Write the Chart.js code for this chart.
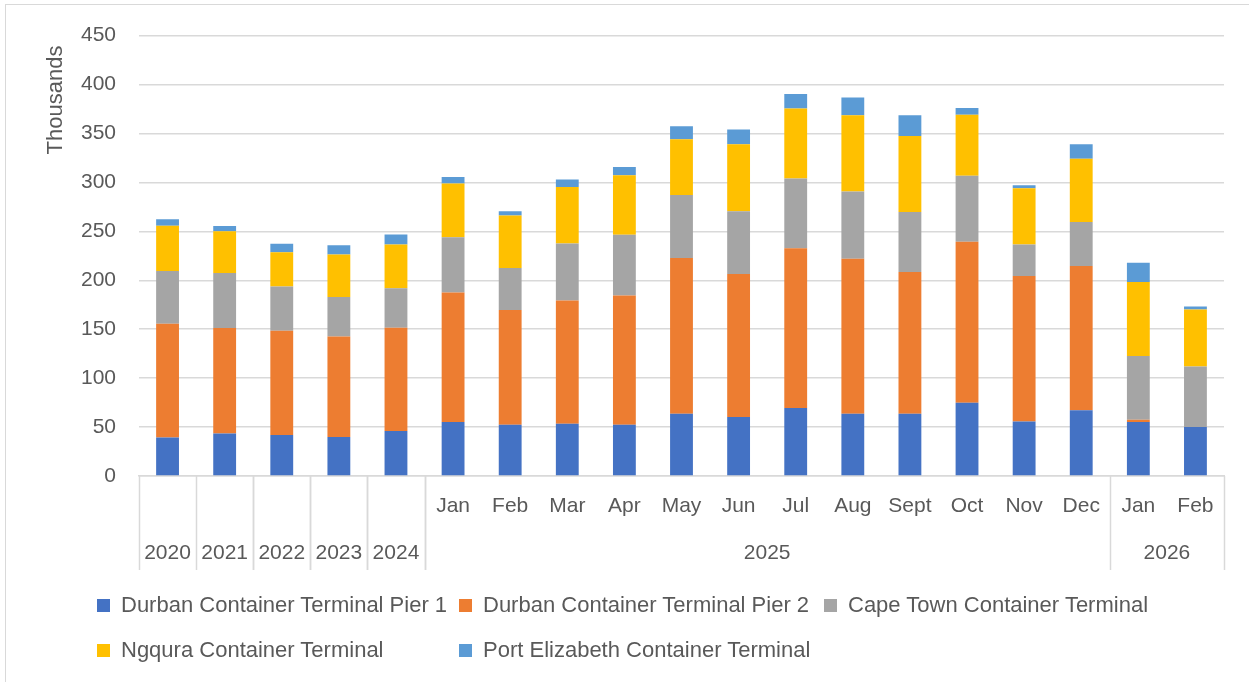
<!DOCTYPE html>
<html>
<head>
<meta charset="utf-8">
<script src="https://cdn.jsdelivr.net/npm/chart.js@4"></script>
<style>
  html, body { margin: 0; padding: 0; background: #fff; }
  #wrap { position: relative; width: 1249px; height: 682px; overflow: hidden; font-family: "Liberation Sans", Arial, sans-serif; }
  #frame { position: absolute; left: 5px; top: 4px; width: 1300px; height: 720px; border: 1.5px solid #d9d9d9; box-sizing: border-box; pointer-events: none; }
  #legend { position: absolute; left: 97px; top: 0; width: 1150px; height: 682px; pointer-events: none; }
  .item { position: absolute; display: flex; align-items: center; height: 30px; color: #595959; font-size: 22px; white-space: nowrap; }
  .sw { width: 13px; height: 13px; margin-right: 11px; flex: none; }
</style>
</head>
<body>
<div id="wrap">
  <canvas id="c" width="1249" height="682"></canvas>
  <div id="legend"></div>
  <div id="frame"></div>
</div>
<script>
// ---- data ----
const monthLabels = ['', '', '', '', '', 'Jan', 'Feb', 'Mar', 'Apr', 'May', 'Jun', 'Jul', 'Aug', 'Sept', 'Oct', 'Nov', 'Dec', 'Jan', 'Feb'];
const groupLabels = ['2020', '2021', '2022', '2023', '2024', '2025', '2026'];
const groupStart = [0, 1, 2, 3, 4, 5, 17];
const groupEnd = [0, 1, 2, 3, 4, 16, 18];

const seriesNames = ['Durban Container Terminal Pier 1', 'Durban Container Terminal Pier 2', 'Cape Town Container Terminal', 'Ngqura Container Terminal', 'Port Elizabeth Container Terminal'];
const seriesColors = ['#4472C4', '#ED7D31', '#A5A5A5', '#FFC000', '#5B9BD5'];

const pier1  = [39.3, 43.3, 42.0, 39.9, 46.0, 55.1, 52.4, 53.5, 52.4, 63.6, 60.2, 69.4, 63.6, 63.6, 74.8, 55.8, 67.3, 55.1, 50.0];
const pier2  = [116.3, 108.0, 106.5, 102.6, 105.6, 132.4, 117.1, 125.9, 132.0, 159.1, 146.2, 163.4, 158.4, 144.8, 164.5, 148.6, 147.2, 2.4, 0];
const cape   = [53.9, 56.1, 45.1, 40.5, 40.3, 56.5, 43.0, 58.2, 62.0, 64.3, 64.0, 71.1, 68.7, 61.3, 67.6, 32.1, 45.1, 65.0, 62.0];
const ngqura = [46.3, 42.6, 35.1, 43.4, 44.6, 54.8, 53.8, 57.8, 60.9, 57.2, 68.7, 71.7, 77.8, 77.8, 62.3, 57.6, 64.6, 75.8, 58.2];
const pe     = [6.5, 5.5, 8.5, 9.5, 10.2, 6.8, 4.1, 7.5, 8.4, 13.2, 14.9, 14.6, 18.3, 21.0, 6.8, 3.0, 14.9, 19.7, 3.1];

const yMax = 450, yStep = 50;
const axisTitle = 'Thousands';

const seriesData = [pier1, pier2, cape, ngqura, pe];
const textColor = '#595959';
const gridColor = '#d9d9d9';
const FONT = '"Liberation Sans", Arial, sans-serif';

const groupPlugin = {
  id: 'groups',
  afterDraw(chart) {
    const ctx = chart.ctx;
    const x = chart.scales.x;
    const area = chart.chartArea;
    const half = (x.getPixelForValue(1) - x.getPixelForValue(0)) / 2;
    const bottom = area.bottom + 94;
    ctx.save();
    ctx.strokeStyle = gridColor;
    ctx.lineWidth = 1.5;
    const edges = new Set();
    groupStart.forEach((s, i) => {
      edges.add(x.getPixelForValue(s) - half);
      edges.add(x.getPixelForValue(groupEnd[i]) + half);
    });
    edges.forEach(px => {
      ctx.beginPath();
      ctx.moveTo(Math.round(px) + 0.5, area.bottom);
      ctx.lineTo(Math.round(px) + 0.5, bottom);
      ctx.stroke();
    });
    ctx.fillStyle = textColor;
    ctx.font = '21px ' + FONT;
    ctx.textAlign = 'center';
    ctx.textBaseline = 'middle';
    groupLabels.forEach((g, i) => {
      const cx = (x.getPixelForValue(groupStart[i]) + x.getPixelForValue(groupEnd[i])) / 2;
      ctx.fillText(g, cx, area.bottom + 77);
    });
    // axis title
    ctx.translate(56, 100);
    ctx.rotate(-Math.PI / 2);
    ctx.font = '22px ' + FONT;
    ctx.fillText(axisTitle, 0, 0);
    ctx.restore();
  }
};

new Chart(document.getElementById('c'), {
  type: 'bar',
  data: {
    labels: monthLabels,
    datasets: seriesNames.map((n, i) => ({
      label: n,
      data: seriesData[i],
      backgroundColor: seriesColors[i],
      borderWidth: 0,
      barPercentage: 0.4,
      categoryPercentage: 1.0
    }))
  },
  options: {
    responsive: false,
    animation: false,
    layout: { padding: { left: 0, right: 25, top: 33, bottom: 0 } },
    plugins: { legend: { display: false }, tooltip: { enabled: false } },
    scales: {
      x: {
        stacked: true,
        grid: { display: false, drawTicks: false },
        border: { display: true, color: gridColor, width: 1.5 },
        ticks: { color: textColor, font: { family: FONT, size: 21 }, autoSkip: false, maxRotation: 0, padding: 18 },
        afterFit(s) { s.height = 206; }
      },
      y: {
        stacked: true,
        min: 0, max: yMax,
        grid: { color: gridColor, lineWidth: 1.5, drawTicks: false },
        border: { display: false },
        ticks: { stepSize: yStep, color: textColor, font: { family: FONT, size: 21 }, padding: 23 },
        afterFit(s) { s.width = 139; }
      }
    }
  },
  plugins: [groupPlugin]
});

// HTML legend (grid of 3 columns)
const legend = document.getElementById('legend');
const colX = [0, 362, 727];
const rowY = [605, 650];
seriesNames.forEach((n, i) => {
  const d = document.createElement('div');
  d.className = 'item';
  d.style.left = colX[i % 3] + 'px';
  d.style.top = (rowY[Math.floor(i / 3)] - 15) + 'px';
  d.innerHTML = '<span class="sw" style="background:' + seriesColors[i] + '"></span><span></span>';
  d.lastChild.textContent = n;
  legend.appendChild(d);
});
</script>
</body>
</html>
